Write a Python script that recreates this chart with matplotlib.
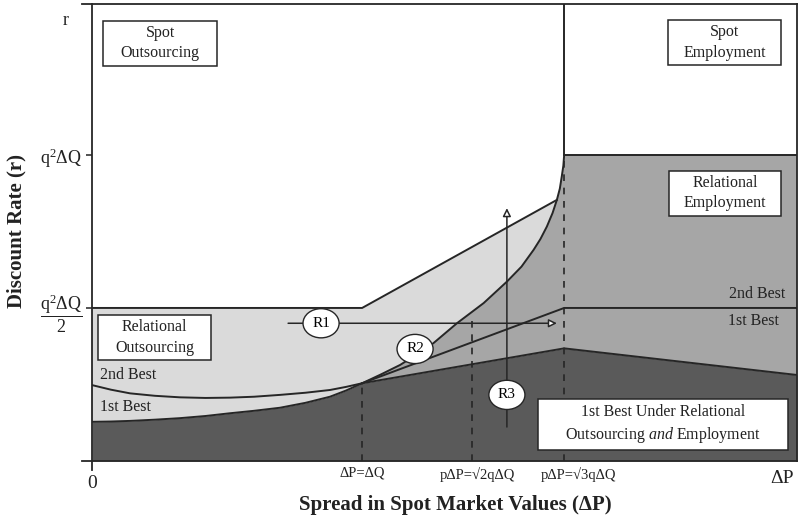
import matplotlib
matplotlib.use('Agg')
import matplotlib.pyplot as plt
from matplotlib.patches import Rectangle

plt.rcParams['font.family'] = ['Liberation Serif', 'DejaVu Serif']
plt.rcParams['mathtext.fontset'] = 'custom'
plt.rcParams['mathtext.rm'] = 'Liberation Serif'
plt.rcParams['mathtext.it'] = 'Liberation Serif:italic'
plt.rcParams['mathtext.bf'] = 'Liberation Serif:bold'

# ---------------- data (x in units of ΔQ, y in units of q²ΔQ) ----------------
X_DQ, X_S2, X_S3, X_MAX = 1.0, 1.406, 1.748, 2.61
Y_HALF, Y_FULL, Y_TOP = 0.5, 1.0, 1.493

x_tick_pos = [X_DQ, X_S2, X_S3]
x_tick_labels = ['ΔP=ΔQ', 'pΔP=√2qΔQ', 'pΔP=√3qΔQ']
y_tick_pos = [Y_HALF, Y_FULL]
y_tick_labels = [r'$\dfrac{\mathrm{q}^2\Delta\mathrm{Q}}{2}$', r'$\mathrm{q}^2\Delta\mathrm{Q}$']

# first-best frontier (top of dark region)
first_best_x = [0.0, 0.07, 0.141, 0.233, 0.326, 0.42, 0.511, 0.60, 0.696, 0.79, 0.881, 0.94, 1.0, 1.748, 2.61]
first_best_y = [0.128, 0.129, 0.131, 0.135, 0.140, 0.147, 0.156, 0.164, 0.174, 0.190, 0.210, 0.230, 0.254, 0.368, 0.281]
N_LEFT = 13  # number of first-best points up to ΔP=ΔQ

# second-best curve under relational outsourcing
second_best_x = [0.0, 0.07, 0.141, 0.233, 0.326, 0.42, 0.511, 0.60, 0.696, 0.79, 0.881, 0.94, 1.0]
second_best_y = [0.248, 0.233, 0.221, 0.213, 0.208, 0.206, 0.207, 0.210, 0.216, 0.223, 0.232, 0.242, 0.254]

# 1st/2nd best divide under relational employment
divide_x = [1.0, 1.748, 2.61]
divide_y = [0.254, 0.5, 0.5]

# boundary between relational outsourcing and relational employment
emp_x = [1.0, 1.07, 1.141, 1.20, 1.264, 1.351, 1.45, 1.536, 1.59, 1.635, 1.66, 1.684,
         1.705, 1.721, 1.732, 1.739, 1.745, 1.748]
emp_y = [0.254, 0.283, 0.314, 0.347, 0.385, 0.45, 0.516, 0.586, 0.635, 0.690, 0.725, 0.766,
         0.810, 0.853, 0.890, 0.929, 0.965, 1.0]

# upper boundary of relational outsourcing
upper_x = [0.0, 1.0, 1.721]
upper_y = [0.5, 0.5, 0.853]

# top of dashed guides
dash_top = [0.254, 0.477, 1.0]

# ---------------- figure ----------------
C_LIGHT, C_MED, C_DARK, C_LINE = '#dadada', '#a6a6a6', '#5a5a5a', '#262626'

fig = plt.figure(figsize=(8.02, 5.20), dpi=100)
ax = fig.add_axes([92/802, 59/520, 705/802, 457/520])
ax.set_xlim(0, X_MAX)
ax.set_ylim(0, Y_TOP)
for s in ax.spines.values():
    s.set_visible(False)

# regions
k = emp_y.index(upper_y[-1])
light_x = first_best_x[:N_LEFT] + emp_x[1:k+1] + upper_x[-2::-1]
light_y = first_best_y[:N_LEFT] + emp_y[1:k+1] + upper_y[-2::-1]
ax.fill(light_x, light_y, color=C_LIGHT, lw=0, zorder=1)

med_x = emp_x + [X_MAX, X_MAX] + first_best_x[N_LEFT:N_LEFT-2:-1]
med_y = emp_y + [Y_FULL, first_best_y[-1]] + first_best_y[N_LEFT:N_LEFT-2:-1]
ax.fill(med_x, med_y, color=C_MED, lw=0, zorder=1)

ax.fill_between(first_best_x, 0, first_best_y, color=C_DARK, lw=0, zorder=1)

lw = 1.4
ax.plot(first_best_x, first_best_y, color=C_LINE, lw=lw, zorder=2)
ax.plot(second_best_x, second_best_y, color=C_LINE, lw=lw, zorder=2)
ax.plot(divide_x, divide_y, color=C_LINE, lw=lw, zorder=2)
ax.plot(emp_x, emp_y, color=C_LINE, lw=lw, zorder=2)
ax.plot(upper_x, upper_y, color=C_LINE, lw=lw, zorder=2)
ax.plot([X_S3, X_S3], [Y_FULL, Y_TOP], color=C_LINE, lw=lw, zorder=2)
ax.plot([X_S3, X_MAX], [Y_FULL, Y_FULL], color=C_LINE, lw=lw, zorder=2)

# dashed guides
for xv, yt in zip(x_tick_pos, dash_top):
    ax.plot([xv, xv], [0, yt], color=C_LINE, lw=1.2, ls=(0, (4, 4)), zorder=2)

# frame
fk = dict(color=C_LINE, lw=1.3, clip_on=False, zorder=5)
ax.plot([0, 0], [-0.03, Y_TOP], **fk)
ax.plot([-0.037, X_MAX], [0, 0], **fk)
ax.plot([-0.037, X_MAX], [Y_TOP, Y_TOP], **fk)
ax.plot([X_MAX, X_MAX], [0, Y_TOP], **fk)

# arrows R1 and R3
ap = dict(arrowstyle='-|>', fc='white', ec=C_LINE, lw=1.1, mutation_scale=12, shrinkA=0, shrinkB=0)
ax.annotate('', xy=(1.721, 0.45), xytext=(0.726, 0.45), arrowprops=ap, zorder=3)
ax.annotate('', xy=(1.536, 0.826), xytext=(1.536, 0.111), arrowprops=ap, zorder=3)

ell = dict(boxstyle='ellipse,pad=0.25', fc='white', ec=C_LINE, lw=1.0)
ax.text(0.848, 0.45, 'R1', ha='center', va='center', fontsize=11, bbox=ell, zorder=4)
ax.text(1.196, 0.366, 'R2', ha='center', va='center', fontsize=11, bbox=ell, zorder=4)
ax.text(1.536, 0.216, 'R3', ha='center', va='center', fontsize=11, bbox=ell, zorder=4)

# labelled boxes
boxes = [
    (0.041, 1.291, 0.422, 0.147, 'Spot\nOutsourcing'),
    (2.133, 1.294, 0.419, 0.147, 'Spot\nEmployment'),
    (2.137, 0.801, 0.415, 0.147, 'Relational\nEmployment'),
    (0.022, 0.330, 0.419, 0.147, 'Relational\nOutsourcing'),
    (1.652, 0.036, 0.926, 0.167, '1st Best Under Relational\nOutsourcing $\\it{and}$ Employment'),
]
for bx, by, bw, bh, txt in boxes:
    ax.add_patch(Rectangle((bx, by), bw, bh, fc='white', ec=C_LINE, lw=1.1, zorder=4))
    ax.text(bx + bw/2, by + bh/2, txt, ha='center', va='center', fontsize=11.5,
            linespacing=1.35, color='#222222', zorder=5)

tk = dict(fontsize=11.5, color='#222222', zorder=5, va='center')
ax.text(0.03, 0.281, '2nd Best', ha='left', **tk)
ax.text(0.03, 0.176, '1st Best', ha='left', **tk)
ax.text(2.567, 0.546, '2nd Best', ha='right', **tk)
ax.text(2.544, 0.458, '1st Best', ha='right', **tk)

# ticks
ax.set_xticks([])
ax.set_yticks(y_tick_pos, labels=y_tick_labels)
ax.tick_params(axis='y', length=4, width=1.1, pad=3, labelsize=13, colors='#222222')
for xv, lab, dx in zip(x_tick_pos, x_tick_labels, [0, 4, 10]):
    ax.annotate(lab, xy=(xv, 0), xycoords=('data', 'axes fraction'), xytext=(dx, -4),
                textcoords='offset points', ha='center', va='top', fontsize=10.5, color='#222222')
ax.text(0, -0.072, '0', ha='center', va='center', fontsize=14, color='#222222')
ax.text(2.556, -0.056, 'ΔP', ha='center', va='center', fontsize=14, color='#222222')
ax.text(-0.096, 1.44, 'r', ha='center', va='center', fontsize=13, color='#222222')

fig.text(16/802, 1 - 231/520, 'Discount Rate (r)', rotation=90, ha='center', va='center',
         fontsize=15, fontweight='bold', color='#222222')
fig.text(455/802, 1 - 505/520, 'Spread in Spot Market Values (ΔP)', ha='center', va='center',
         fontsize=15, fontweight='bold', color='#222222')

fig.savefig('out.png', dpi=100)
